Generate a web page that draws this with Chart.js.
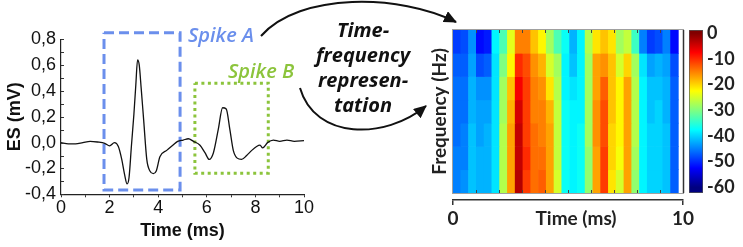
<!DOCTYPE html>
<html><head><meta charset="utf-8">
<script src="https://cdn.jsdelivr.net/npm/chart.js@4.4.1/dist/chart.umd.min.js"></script>
<style>
html,body{margin:0;padding:0;background:#fff;}
#wrap{position:relative;width:743px;height:247px;overflow:hidden;background:#fff;}
canvas{position:absolute;left:0;top:0;}
svg{position:absolute;left:0;top:0;}
</style></head><body>
<div id="wrap">
<canvas id="c1" width="743" height="247"></canvas>
<canvas id="c2" width="743" height="247"></canvas>
<canvas id="c3" width="743" height="247"></canvas>
<svg width="743" height="247" viewBox="0 0 743 247">
  <defs>
    <marker id="ah" markerUnits="userSpaceOnUse" markerWidth="14" markerHeight="12" refX="12" refY="6" orient="auto">
      <path d="M0,0 L13,6 L0,12 Z" fill="#111"/>
    </marker>
  </defs>
  <path d="M261,36 C300,-8 400,-6 456,22" fill="none" stroke="#111" stroke-width="2" marker-end="url(#ah)"/>
  <path d="M300,88 C315,140 385,140 426,106" fill="none" stroke="#111" stroke-width="2" marker-end="url(#ah)"/>
  <text x="188" y="42" font-family="Open Sans" font-style="italic" font-weight="600" font-size="20" fill="#6b8fec">Spike A</text>
  <text x="228" y="78" font-family="Open Sans" font-style="italic" font-weight="600" font-size="20" fill="#8cc43c">Spike B</text>
  <g font-family="Open Sans" font-style="italic" font-weight="bold" font-size="20" fill="#111" text-anchor="middle">
    <text x="363" y="37">Time-</text>
    <text x="363" y="62">frequency</text>
    <text x="363" y="87">represen-</text>
    <text x="363" y="112">tation</text>
  </g>
</svg>
</div>
<script>
// ---------- Left panel: extracellular spike trace ----------
const timeMs = [0, 0.3, 0.6, 0.9, 1.2, 1.5, 1.8, 2.0, 2.2, 2.36, 2.5, 2.62, 2.72, 2.8, 2.9, 3.0, 3.08, 3.15, 3.22, 3.3, 3.4, 3.53, 3.66, 3.8, 3.92, 4.07, 4.35, 4.6, 4.8, 5.03, 5.24, 5.45, 5.72, 5.93, 6.1, 6.27, 6.47, 6.65, 6.8, 6.95, 7.09, 7.25, 7.43, 7.64, 7.85, 8.05, 8.19, 8.3, 8.5, 8.74, 9.0, 9.3, 9.6, 10.0];
const esMv   = [0, -0.01, -0.01, 0.0, 0.01, 0.005, -0.005, -0.025, 0.0, -0.03, -0.13, -0.25, -0.32, -0.27, -0.02, 0.22, 0.45, 0.64, 0.6, 0.42, 0.18, -0.13, -0.22, -0.24, -0.22, -0.11, -0.06, -0.02, 0.01, 0.02, 0.03, 0.01, -0.02, -0.08, -0.13, -0.08, 0.1, 0.27, 0.26, 0.1, -0.06, -0.12, -0.13, -0.1, -0.06, -0.03, -0.02, -0.04, 0.0, 0.02, 0.01, 0.02, 0.01, 0.015];
const spikeATimes = [1.77, 4.9];
const spikeAVolts = [-0.366, 0.85];
const spikeBTimes = [5.51, 8.53];
const spikeBVolts = [-0.237, 0.46];

// ---------- Right panel: time-frequency power (dB), one array per time bin, rows top->bottom ----------
const tfPower = [
  [-49, -47, -46, -46, -46, -45, -45],
  [-48, -47, -46, -46, -45, -45, -44],
  [-44, -43, -42, -42, -41, -41, -41],
  [-52, -48, -44, -43, -43, -42, -42],
  [-51, -47, -44, -43, -42, -42, -42],
  [-38, -39, -39, -39, -39, -39, -39],
  [-33, -30, -28, -28, -27, -27, -27],
  [-24, -22, -19, -18, -17, -17, -17],
  [-15, -10, -7, -5, -4, -4, -3],
  [-15, -12, -11, -11, -11, -10, -11],
  [-19, -16, -15, -15, -14, -14, -14],
  [-22, -18, -16, -15, -15, -14, -13],
  [-28, -25, -21, -18, -17, -17, -17],
  [-33, -28, -27, -26, -26, -26, -25],
  [-37, -38, -38, -37, -37, -37, -37],
  [-42, -41, -39, -38, -38, -38, -38],
  [-38, -38, -38, -38, -37, -37, -37],
  [-27, -28, -28, -28, -28, -29, -29],
  [-21, -17, -17, -16, -16, -17, -17],
  [-19, -16, -13, -12, -12, -11, -11],
  [-21, -19, -19, -19, -20, -20, -21],
  [-28, -25, -22, -22, -22, -23, -25],
  [-26, -20, -17, -17, -17, -17, -17],
  [-34, -28, -27, -27, -27, -28, -29],
  [-45, -39, -38, -38, -38, -38, -38],
  [-49, -43, -41, -41, -40, -40, -40],
  [-48, -42, -41, -40, -40, -40, -40],
  [-45, -43, -42, -42, -41, -41, -41],
  [-52, -48, -47, -47, -47, -47, -47]
];
const tfTimeLabels = [0, 10];
const tfInnerTicks = [1, 2, 3, 4, 5, 6, 7, 8, 9];
const colorbarTicks = [0, -10, -20, -30, -40, -50, -60];
const colorbarRange = [-62.2, 1.2];
const colorLimits = [-60, 0];

function clamp01(x){ return Math.max(0, Math.min(1, x)); }
function jet(v){
  const t = clamp01((v - colorLimits[0]) / (colorLimits[1] - colorLimits[0]));
  const r = clamp01(Math.min(4*t - 1.5, -4*t + 4.5));
  const g = clamp01(Math.min(4*t - 0.5, -4*t + 3.5));
  const b = clamp01(Math.min(4*t + 0.5, -4*t + 2.5));
  return 'rgb(' + Math.round(r*255) + ',' + Math.round(g*255) + ',' + Math.round(b*255) + ')';
}
function rectPts(ts, vs){
  return [{x:ts[0],y:vs[1]},{x:ts[1],y:vs[1]},{x:ts[1],y:vs[0]},{x:ts[0],y:vs[0]},{x:ts[0],y:vs[1]}];
}

const common = {responsive:false, animation:false, events:[], devicePixelRatio:1,
  plugins:{legend:{display:false}, tooltip:{enabled:false}}};

// inward y ticks for left chart
const innerYTicks = {id:'innerYTicks', afterDraw(ch){
  const s = ch.scales.y, c = ch.ctx; c.save(); c.strokeStyle = '#333'; c.lineWidth = 1;
  s.ticks.forEach(t => { const y = Math.round(s.getPixelForValue(t.value)) + 0.5;
    c.beginPath(); c.moveTo(s.right, y); c.lineTo(s.right + 3, y); c.stroke(); });
  c.restore(); }};

new Chart(document.getElementById('c1'), {
  type:'line',
  data:{datasets:[
    {data: timeMs.map((t,i)=>({x:t, y:esMv[i]})), borderColor:'#111', borderWidth:1.3, pointRadius:0, cubicInterpolationMode:'monotone', clip:false},
    {data: rectPts(spikeATimes, spikeAVolts), borderColor:'#6b8fec', borderWidth:3, borderDash:[10,5], pointRadius:0, tension:0, clip:false},
    {data: rectPts(spikeBTimes, spikeBVolts), borderColor:'#8cc43c', borderWidth:3, borderDash:[3,3.5], pointRadius:0, tension:0, clip:false}
  ]},
  options:Object.assign({}, common, {
    layout:{padding:{left:0, top:39.3, right:439, bottom:0}},
    scales:{
      x:{type:'linear', min:0, max:10,
        ticks:{stepSize:1, autoSkip:false, maxRotation:0, padding:0, color:'#111',
          font:{family:'Liberation Sans', size:18},
          callback:(v)=> (Math.round(v) % 2 === 0 ? String(Math.round(v)) : '')},
        grid:{display:true, drawOnChartArea:false, tickLength:3, color:'#333', lineWidth:1},
        border:{display:true, color:'#222', width:1.2},
        title:{display:true, text:'Time (ms)', color:'#111', font:{family:'Liberation Sans', size:18, weight:'bold'}, padding:{top:0, bottom:5}},
        afterFit:(s)=>{ s.height = 52.7; }},
      y:{type:'linear', min:-0.4, max:0.8,
        ticks:{stepSize:0.1, autoSkip:false, padding:5, color:'#111',
          font:{family:'Liberation Sans', size:18},
          callback:(v)=>{ const k = Math.round(v*10); if (k % 2 !== 0) return ''; const r = k/10; return (r === 0 ? '0.0' : r.toFixed(1)).replace('.', ','); }},
        grid:{display:false, drawTicks:false},
        border:{display:true, color:'#222', width:1.2},
        title:{display:true, text:'ES (mV)', color:'#111', font:{family:'Liberation Sans', size:18, weight:'bold'}, padding:{top:4, bottom:0}},
        afterFit:(s)=>{ s.width = 61; }}
    }
  }),
  plugins:[innerYTicks]
});

// heatmap frame + inward time ticks
const tfFrame = {id:'tfFrame', afterDatasetsDraw(ch){
  const a = ch.chartArea, c = ch.ctx; c.save();
  c.strokeStyle = '#a0a0a0'; c.lineWidth = 1;
  c.strokeRect(a.left - 0.5, a.top - 0.5, a.right - a.left + 1, a.bottom - a.top + 1);
  c.strokeStyle = '#333'; c.lineWidth = 1.5;
  c.beginPath(); c.moveTo(a.right + 0.5, a.top); c.lineTo(a.right + 0.5, a.bottom); c.stroke();
  const s = ch.scales.xt; c.strokeStyle = '#444'; c.lineWidth = 1;
  tfInnerTicks.forEach(v => { const x = Math.round(s.getPixelForValue(v)) + 0.5;
    c.beginPath(); c.moveTo(x, a.top); c.lineTo(x, a.top + 3); c.moveTo(x, a.bottom); c.lineTo(x, a.bottom - 3); c.stroke(); });
  c.restore(); }};

const nRows = tfPower[0].length;
const rowIdx = Array.from({length:nRows}, (_, r) => r);
new Chart(document.getElementById('c2'), {
  type:'bar',
  data:{datasets: rowIdx.map(r => ({
    data: tfPower.map((col, i) => ({x: i + 0.5, y: [r, r + 1]})),
    backgroundColor: tfPower.map(col => jet(col[r])),
    borderWidth:0, grouped:false, barPercentage:1, categoryPercentage:1
  }))},
  options:Object.assign({}, common, {
    layout:{padding:{left:425, right:60, top:30, bottom:7}},
    scales:{
      x:{type:'linear', min:0, max:29.6, display:true, offset:false,
        grid:{display:false, drawTicks:false, offset:false}, ticks:{display:false}, border:{display:false},
        afterBuildTicks:(s)=>{ s.ticks = [{value:0}, {value:29.6}]; },
        afterFit:(s)=>{ s.height = 7; }},
      xt:{axis:'x', type:'linear', position:'bottom', min:0, max:10, offset:false,
        afterBuildTicks:(s)=>{ s.ticks = [{value:tfTimeLabels[0]}, {value:5.35}, {value:tfTimeLabels[1]}]; },
        ticks:{autoSkip:false, maxRotation:0, padding:2, color:'#222',
          font:{family:'Lato', size:19, weight:'bold'},
          callback:(v, i)=> (i === 1 ? 'Time (ms)' : String(v))},
        grid:{display:true, drawOnChartArea:false, offset:false, tickLength:5, lineWidth:1.5,
          color:(ctx)=> (ctx.tick && ctx.tick.value === 5.35 ? 'rgba(0,0,0,0)' : '#333')},
        border:{display:true, color:'#333', width:1.5},
        afterFit:(s)=>{ s.height = 40; }},
      y:{type:'linear', min:0, max:7, reverse:true,
        ticks:{display:false}, grid:{display:false, drawTicks:false}, border:{display:false},
        title:{display:true, text:'Frequency (Hz)', color:'#222', font:{family:'Lato', size:19, weight:'bold'}, padding:{top:3.6, bottom:0}},
        afterFit:(s)=>{ s.width = 28; }}
    }
  }),
  plugins:[tfFrame]
});

// colorbar
new Chart(document.getElementById('c3'), {
  type:'bar',
  data:{labels:['dB'], datasets:[{
    data:[colorbarRange],
    backgroundColor:(ctx)=>{
      const ch = ctx.chart; if (!ch.chartArea) return '#888';
      const ys = ch.scales.y;
      const g = ch.ctx.createLinearGradient(0, ys.getPixelForValue(colorLimits[0]), 0, ys.getPixelForValue(colorLimits[1]));
      for (let i = 0; i <= 24; i++) { const v = colorLimits[0] + (colorLimits[1]-colorLimits[0]) * i / 24; g.addColorStop(i/24, jet(v)); }
      return g;
    },
    borderColor:'#555', borderWidth:1, borderSkipped:false, barPercentage:1, categoryPercentage:1
  }]},
  options:Object.assign({}, common, {
    layout:{padding:{left:689, right:0, top:30, bottom:54}},
    scales:{
      x:{display:false},
      y:{position:'right', min:colorbarRange[0], max:colorbarRange[1],
        afterBuildTicks:(s)=>{ s.ticks = colorbarTicks.map(v => ({value:v})); },
        ticks:{padding:4, color:'#222', font:{family:'Lato', size:18, weight:'bold'}, callback:(v)=>String(v)},
        grid:{display:false, drawTicks:false}, border:{display:false},
        afterFit:(s)=>{ s.width = 40; }}
    }
  })
});
</script>
</body></html>
